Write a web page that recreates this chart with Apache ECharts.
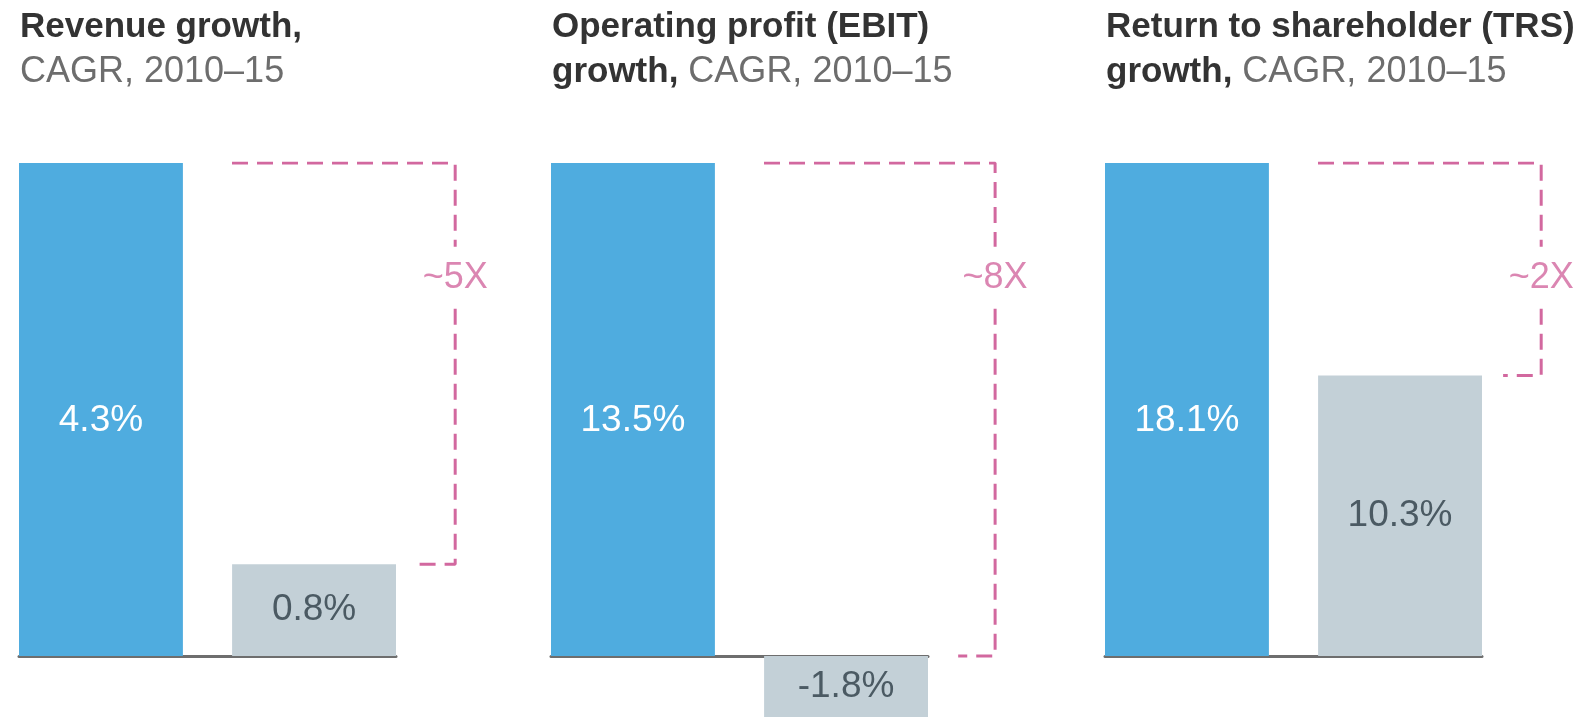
<!DOCTYPE html>
<html>
<head>
<meta charset="utf-8">
<script src="https://cdn.jsdelivr.net/npm/echarts@6/dist/echarts.min.js"></script>
<style>
  html, body { margin: 0; padding: 0; background: #fff; }
  #main { width: 1588px; height: 717px; }
</style>
</head>
<body>
<div id="main"></div>
<script>
var myChart = echarts.init(document.getElementById('main'));

// data
var titleBold = [['Revenue growth,'], ['Operating profit (EBIT)', 'growth,'], ['Return to shareholder (TRS)', 'growth,']];
var titleRest = 'CAGR, 2010–15';
var topValues = [4.3, 13.5, 18.1];     // blue bars
var restValues = [0.8, -1.8, 10.3];    // grey bars
var multiples = ['~5X', '~8X', '~2X'];

// bracket shape, as fractions of the panel width
var bracketStart = [0.565, 0.565, 0.565];
var bracketSide = [1.157, 1.178, 1.157];
var bracketFoot = [1.056, 1.080, 1.056];

var gridLefts = [19, 551, 1105];
var gridWidth = 377;
var plotTop = 163;
var plotH = 493;   // pixel height of the tallest (blue) bar
var canvasH = 717;
var bracketRange = 1.25;
var labelLevel = 0.767;  // multiple label height, share of the blue bar
var labelGap = 31;       // half gap in the bracket around the label, px

var FONT = '"Liberation Sans", Arial, Helvetica, sans-serif';
var BLUE = '#4facdf';
var GREY = '#c3d0d7';
var PINK = '#d2689f';

var option = {
    backgroundColor: '#fff',
    animation: false,
    title: [],
    grid: [],
    xAxis: [],
    yAxis: [],
    series: []
};

function pct(p) { return p.value.toFixed(1) + '%'; }

for (var i = 0; i < 3; i++) {
    var max = topValues[i];
    // below zero the chart is cut by the picture's bottom edge
    var min = restValues[i] < 0 ? -max * (canvasH - plotTop - plotH) / plotH : 0;
    var h = plotH * (max - min) / max;

    var text = titleBold[i].length === 1
        ? '{b|' + titleBold[i][0] + '}\n{n|' + titleRest + '}'
        : '{b|' + titleBold[i][0] + '}\n{b|' + titleBold[i][1] + '}{n| ' + titleRest + '}';
    option.title.push({
        text: text,
        left: gridLefts[i] + 1,
        top: 5,
        padding: 0,
        textStyle: {
            rich: {
                b: { fontFamily: FONT, fontSize: 35, fontWeight: 'bold', color: '#333', lineHeight: 45 },
                n: { fontFamily: FONT, fontSize: 36, fontWeight: 'normal', color: '#6d6d6d', lineHeight: 45 }
            }
        }
    });

    // bar grid
    option.grid.push({ left: gridLefts[i], width: gridWidth, top: plotTop, height: h });
    // bracket grid (wider, same vertical scale)
    option.grid.push({ left: gridLefts[i], width: gridWidth * bracketRange, top: plotTop, height: h });

    option.xAxis.push({
        type: 'category',
        gridIndex: i * 2,
        data: ['x'],
        axisLine: { show: true, onZero: true, lineStyle: { color: '#6e6e6e', width: 3 } },
        axisTick: { show: false },
        axisLabel: { show: false }
    });
    option.xAxis.push({
        type: 'value',
        gridIndex: i * 2 + 1,
        min: 0,
        max: bracketRange,
        show: false
    });
    option.yAxis.push({ type: 'value', gridIndex: i * 2, min: min, max: max, show: false });
    option.yAxis.push({ type: 'value', gridIndex: i * 2 + 1, min: min, max: max, show: false });

    option.series.push({
        type: 'bar',
        xAxisIndex: i * 2,
        yAxisIndex: i * 2,
        data: [topValues[i]],
        barWidth: 164,
        barGap: '30%',
        itemStyle: { color: BLUE },
        label: {
            show: true,
            position: 'inside',
            offset: [0, 11],
            fontFamily: FONT,
            fontSize: 37,
            color: '#fff',
            formatter: pct
        }
    });
    option.series.push({
        type: 'bar',
        xAxisIndex: i * 2,
        yAxisIndex: i * 2,
        data: [restValues[i]],
        barWidth: 164,
        barGap: '30%',
        itemStyle: { color: GREY },
        label: {
            show: true,
            position: 'inside',
            fontFamily: FONT,
            fontSize: 37,
            color: '#4b5a63',
            formatter: pct
        }
    });

    // dashed bracket between the two bars, broken where the label sits
    var footY = Math.max(0, restValues[i]);
    var labelY = topValues[i] * labelLevel;
    var gap = labelGap / plotH * max;
    option.series.push({
        type: 'line',
        xAxisIndex: i * 2 + 1,
        yAxisIndex: i * 2 + 1,
        symbol: 'none',
        connectNulls: false,
        lineStyle: { color: PINK, width: 3, type: [16, 9] },
        data: [
            [bracketStart[i], topValues[i]],
            [bracketSide[i], topValues[i]],
            [bracketSide[i], labelY + gap],
            ['-', '-'],
            [bracketSide[i], labelY - gap],
            [bracketSide[i], footY],
            [bracketFoot[i], footY]
        ]
    });
    option.series.push({
        type: 'scatter',
        xAxisIndex: i * 2 + 1,
        yAxisIndex: i * 2 + 1,
        symbolSize: 1,
        itemStyle: { color: 'rgba(0,0,0,0)' },
        label: {
            show: true,
            position: 'inside',
            fontFamily: FONT,
            fontSize: 36,
            color: PINK,
            formatter: multiples[i]
        },
        data: [[bracketSide[i], labelY]]
    });
}

myChart.setOption(option);
</script>
</body>
</html>
